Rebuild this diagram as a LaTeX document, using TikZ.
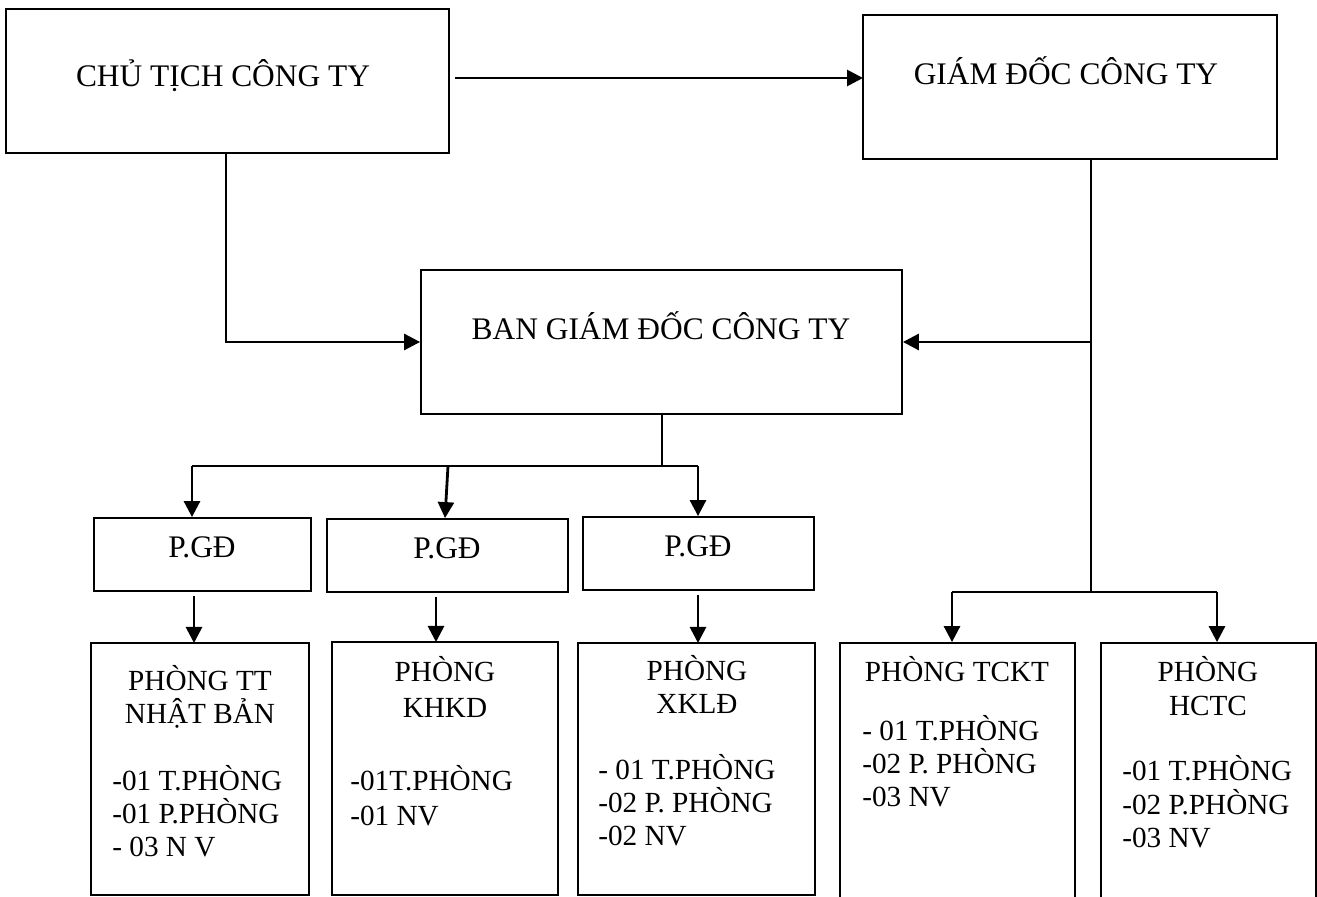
\documentclass[tikz,border=0pt]{standalone}
\usepackage{fontspec}
\setmainfont{Liberation Serif}
\usetikzlibrary{fit,arrows.meta}
\begin{document}
\begin{tikzpicture}[x=0.5pt,y=-0.5pt,
  box/.style={draw, line width=0.9pt, inner sep=0pt},
  big/.style={font=\fontsize{15.7}{18}\selectfont, inner sep=0pt, anchor=base},
  ttl/.style={font=\fontsize{14.6}{16.5}\selectfont, inner sep=0pt, anchor=base},
  lst/.style={font=\fontsize{14.6}{16.5}\selectfont, inner sep=0pt, anchor=base west},
  conn/.style={line width=1.4pt},
  arr/.style={line width=1.4pt, -{Triangle[length=8pt,width=8pt]}}]
\newcommand\tline[4]{\node[lst] (#1) at (#2,#3) {#4};}
\newcommand\tttl[4]{\node[ttl] (#1) at (#2,#3) {#4};}
\useasboundingbox (0,0) rectangle (1317,897);
\clip (0,0) rectangle (1317,897);

% top boxes
\node[box, fit={(6,9) (449,153)}] (ct) {};
\node[big] (ctT) at (223,87) {CHỦ TỊCH CÔNG TY};
\node[box, fit={(863,15) (1277,159)}] (gd) {};
\node[big] (gdT) at (1066,85) {GIÁM ĐỐC CÔNG TY};
\node[box, fit={(421,270) (902,414)}] (bgd) {};
\node[big] (bgdT) at (661,340) {BAN GIÁM ĐỐC CÔNG TY};

% P.GD boxes
\node[box, fit={(94,518) (311,591)}] (pg1) {};
\node[big] (pg1T) at (202,558) {P.GĐ};
\node[box, fit={(327,519) (568,592)}] (pg2) {};
\node[big] (pg2T) at (447,559) {P.GĐ};
\node[box, fit={(583,517) (814,590)}] (pg3) {};
\node[big] (pg3T) at (698,557) {P.GĐ};

% bottom boxes
\node[box, fit={(91,643) (309,895)}] (b1) {};
\tttl{b1a}{200}{690}{PHÒNG TT}
\tttl{b1b}{200}{723}{NHẬT BẢN}
\tline{b1c}{112}{790}{-01 T.PHÒNG}
\tline{b1d}{112}{823}{-01 P.PHÒNG}
\tline{b1e}{112}{856}{- 03 N V}

\node[box, fit={(332,642) (558,895)}] (b2) {};
\tttl{b2a}{445}{682}{PHÒNG}
\tttl{b2b}{445}{717}{KHKD}
\tline{b2c}{350}{790}{-01T.PHÒNG}
\tline{b2d}{350}{825}{-01 NV}

\node[box, fit={(578,643) (815,895)}] (b3) {};
\tttl{b3a}{697}{680}{PHÒNG}
\tttl{b3b}{697}{713}{XKLĐ}
\tline{b3c}{598}{779}{- 01 T.PHÒNG}
\tline{b3d}{598}{812}{-02 P. PHÒNG}
\tline{b3e}{598}{845}{-02 NV}

\node[box, fit={(840,643) (1075,930)}] (b4) {};
\tttl{b4a}{957}{682}{PHÒNG TCKT}
\tline{b4c}{862}{740}{- 01 T.PHÒNG}
\tline{b4d}{862}{773}{-02 P. PHÒNG}
\tline{b4e}{862}{806}{-03 NV}

\node[box, fit={(1101,643) (1316,930)}] (b5) {};
\tttl{b5a}{1208}{682}{PHÒNG}
\tttl{b5b}{1208}{715}{HCTC}
\tline{b5c}{1122}{780}{-01 T.PHÒNG}
\tline{b5d}{1122}{814}{-02 P.PHÒNG}
\tline{b5e}{1122}{847}{-03 NV}

% junction coordinates
\coordinate (ctS) at (226,153);
\coordinate (ctE) at (455,78);
\coordinate (gdW) at (863,78);
\coordinate (gdS) at (1091,159);
\coordinate (gdJ) at (1091,342);
\coordinate (gdB) at (1091,592);
\coordinate (hL) at (952,592);
\coordinate (hR) at (1217,592);
\coordinate (bJ) at (662,466);
\coordinate (pL) at (192,466);
\coordinate (pM) at (448,466);
\coordinate (pR) at (698,466);

% connectors
\draw[arr] (ctE) -- (gdW);
\draw[arr] (ctS) |- (bgd.west);
\draw[conn] (gdS) -- (gdB);
\draw[arr] (gdJ) -- (bgd.east);
\draw[conn] (hL) -- (hR);
\draw[arr] (hL) -- (hL |- b4.north);
\draw[arr] (hR) -- (hR |- b5.north);

\draw[conn] (bgd.south -| bJ) -- (bJ);
\draw[conn] (pL) -- (pR);
\draw[arr] (pL) -- (pL |- pg1.north);
\draw[arr] (pM) -- ([xshift=-1.5pt]pM |- pg2.north);
\draw[arr] (pR) -- (pR |- pg3.north);

\draw[arr] ([yshift=-2pt]pg1.south -| 194,0) -- (194,643);
\draw[arr] ([yshift=-2pt]pg2.south -| 436,0) -- (436,642);
\draw[arr] ([yshift=-2pt]pg3.south -| 698,0) -- (698,643);
\end{tikzpicture}
\end{document}
